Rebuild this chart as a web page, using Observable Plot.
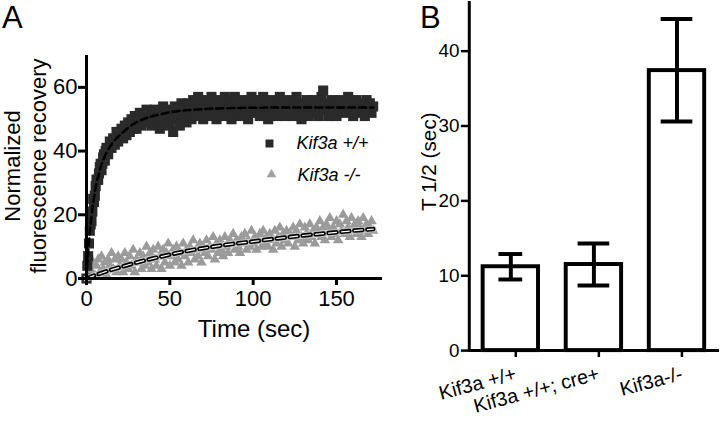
<!DOCTYPE html>
<html><head><meta charset="utf-8">
<script src="https://cdn.jsdelivr.net/npm/d3@7"></script>
<script src="https://cdn.jsdelivr.net/npm/@observablehq/plot@0.6"></script>
<style>
html,body{margin:0;padding:0;background:#fff;overflow:hidden;width:720px;height:426px}
#wrap{position:relative;width:720px;height:426px;font-family:"Liberation Sans",Arial,sans-serif}
#a,#b{position:absolute;top:0}
#a{left:0}
#b{left:360px}
.lab{position:absolute;font-size:31px;line-height:36px;color:#000}
</style></head><body>
<div id="wrap"><div id="a"></div><div id="b"></div>
<div class="lab" style="left:2px;top:0px">A</div>
<div class="lab" style="left:420px;top:0px">B</div></div>
<script>
// ---------- Panel A data ----------
const wtTime = d3.range(0, 173); // one reading per second, 0..172 s
const wtValue = [0,7,15,18,25,26,31,31,35,34,38,37,41,39,43,41,44,42,46,43,46,
  47,44,48,45,49,46,50,47,51,47,49,52,48,51,50,53,49,52,48,51,
  53,49,52,47,51,54,48,50,53,49,52,46,54,50,53,48,55,51,54,49,
  55,52,50,56,53,51,57,52,54,50,56,53,51,55,57,52,54,50,56,53,
  55,51,57,54,52,56,50,54,57,52,55,51,54,56,52,55,50,54,57,53,
  55,52,56,51,54,57,52,55,50,54,56,52,55,51,54,57,52,55,51,54,
  56,52,54,51,55,57,52,54,50,55,53,56,51,54,52,56,53,55,51,54,
  57,59,53,55,51,54,56,52,55,51,54,56,53,55,52,54,57,53,55,51,
  54,56,52,55,53,54,51,56,53,55,52,54];
// extra readings on the steep early rise
const wtEarlyTime  = [0.5,1.5,2.5,3.5,4.5,5.5,6.5,7.5,8.5,9.5,10.5,11.5,12.5];
const wtEarlyValue = [4,11,17,21,24,29,31,33,36,36,39,40,40];
const koTime = d3.range(0, 173);
const koValue = [0,1,3,2,5,1,4,6,2,7,3,5,1,6,4,8,3,6,2,7,4,
  6,2,8,5,3,7,4,9,2,6,5,8,3,7,4,10,5,8,3,9,
  6,4,10,7,3,9,5,8,11,4,7,9,5,10,6,8,4,11,7,9,
  5,10,8,12,6,9,7,11,5,10,8,12,7,10,9,13,6,11,8,12,
  9,7,13,10,8,12,11,14,9,12,10,8,13,11,14,9,12,10,15,11,
  13,9,12,14,10,15,11,13,10,14,12,9,15,11,13,16,10,14,12,15,
  11,14,13,16,10,15,12,17,13,11,16,14,12,17,13,15,11,16,14,18,
  13,16,12,17,15,19,13,16,14,18,12,17,15,20,14,18,16,13,19,15,
  17,14,18,16,13,19,15,17,14,16,18,15];
const wtFitTime  = [0,1,2,3,4,5,6,7,8,9,10,12,14,16,18,20,25,30,35,40,50,60,70,80,100,130,172];
const wtFitValue = [0,8,14.5,19.5,23.5,27,30,32,34,35.8,37.2,39.5,41.3,42.8,44,45,47.3,49,50.2,51,52.2,52.8,53.2,53.4,53.6,53.7,53.7];
const koFitTime  = [0,10,20,30,40,50,60,70,80,90,100,110,120,130,140,150,160,172];
const koFitValue = [0,1.9,3.5,5,6.3,7.5,8.6,9.5,10.3,11,11.6,12.3,12.9,13.5,14,14.5,15,15.5];
const xTicksA = [0,50,100,150];
const yTicksA = [0,20,40,60];
const legendA = ["Kif3a +/+","Kif3a -/-"];

// ---------- Panel B data ----------
const groups = ["Kif3a +/+","Kif3a +/+; cre+","Kif3a-/-"];
const halfTime = [11.2,11.5,37.4];
const halfTimeHi = [12.9,14.3,44.3];
const halfTimeLo = [9.5,8.7,30.6];
const yTicksB = [0,10,20,30,40];

const wt = wtTime.map((t,i)=>({t, v:wtValue[i]}))
  .concat(wtEarlyTime.map((t,i)=>({t, v:wtEarlyValue[i]})));
const ko = koTime.map((t,i)=>({t, v:koValue[i]}));
const wtFit = wtFitTime.map((t,i)=>({t, v:wtFitValue[i]}));
const koFit = koFitTime.map((t,i)=>({t, v:koFitValue[i]}));
const rows = groups.map((g,i)=>({g, v:halfTime[i], hi:halfTimeHi[i], lo:halfTimeLo[i]}));

const font = "Liberation Sans, Arial, sans-serif";

const A = Plot.plot({
  width:390, height:426, marginLeft:86, marginRight:8, marginTop:55, marginBottom:148,
  style:{fontFamily:font, background:"transparent", overflow:"visible", color:"#000"},
  x:{domain:[0,177.6]}, y:{domain:[0,70]},
  marks:[
    Plot.dot(ko, {x:"t", y:"v", symbol:"triangle", r:3.9, fill:"#9b9b9b", stroke:"none"}),
    Plot.dot(wt, {x:"t", y:"v", symbol:"square", r:5.7, fill:"#2a2a2a", stroke:"none"}),
    Plot.line(koFit, {x:"t", y:"v", curve:"natural", stroke:"#c4c4c4", strokeWidth:6.5}),
    Plot.line(koFit, {x:"t", y:"v", curve:"natural", stroke:"#000", strokeWidth:4.5, strokeDasharray:"8,5"}),
    Plot.line(koFit, {x:"t", y:"v", curve:"natural", stroke:"#fff", strokeWidth:1.2, strokeDasharray:"8,5"}),
    Plot.line(wtFit, {x:"t", y:"v", curve:"natural", stroke:"#000", strokeWidth:2.5, strokeDasharray:"7,4"}),
    Plot.ruleY([0], {strokeWidth:3}),
    Plot.ruleX([0], {strokeWidth:3}),
    Plot.axisY({ticks:yTicksA, tickSize:8, tickPadding:1, fontSize:22, strokeWidth:3, label:null}),
    Plot.axisX({ticks:xTicksA, tickSize:7, tickPadding:5, fontSize:22, strokeWidth:3, label:null}),
    Plot.text(["Time (sec)"], {text:d=>d, frameAnchor:"bottom", textAnchor:"middle", lineAnchor:"bottom", dx:19.5, dy:58, fontSize:24}),
    Plot.text(["Normalized\nfluorescence recovery"], {text:d=>d, frameAnchor:"left", textAnchor:"middle", lineAnchor:"middle", rotate:-90, dx:-62, dy:-1, fontSize:22, lineHeight:1.2}),
    Plot.dot([legendA[0]], {frameAnchor:"top-left", dx:183, dy:88, symbol:"square", r:4.5, fill:"#2a2a2a", stroke:"none"}),
    Plot.dot([legendA[1]], {frameAnchor:"top-left", dx:185, dy:119, symbol:"triangle", r:3.6, fill:"#a0a0a0", stroke:"none"}),
    Plot.text([legendA[0]], {text:d=>d, frameAnchor:"top-left", dx:210, dy:88, textAnchor:"start", lineAnchor:"middle", fontSize:18, fontStyle:"italic"}),
    Plot.text([legendA[1]], {text:d=>d, frameAnchor:"top-left", dx:211, dy:120, textAnchor:"start", lineAnchor:"middle", fontSize:18, fontStyle:"italic"})
  ]
});
document.getElementById("a").append(A);

const B = Plot.plot({
  width:364, height:426, marginLeft:110, marginRight:1, marginTop:2, marginBottom:72,
  style:{fontFamily:font, background:"transparent", overflow:"visible", color:"#000"},
  x:{domain:groups, paddingInner:0.3333, paddingOuter:0.1667},
  y:{domain:[0,46.5]},
  marks:[
    Plot.barY(rows, {x:"g", y:"v", fill:"white", stroke:"#000", strokeWidth:4}),
    Plot.ruleX(rows, {x:"g", y1:"lo", y2:"hi", strokeWidth:4}),
    Plot.tickY(rows.slice(0,1), {x:"g", y:"hi", strokeWidth:4, insetLeft:16, insetRight:16}),
    Plot.tickY(rows.slice(0,1), {x:"g", y:"lo", strokeWidth:4, insetLeft:16, insetRight:16}),
    Plot.tickY(rows.slice(1), {x:"g", y:"hi", strokeWidth:4, insetLeft:12, insetRight:12}),
    Plot.tickY(rows.slice(1), {x:"g", y:"lo", strokeWidth:4, insetLeft:12, insetRight:12}),
    Plot.ruleY([0], {strokeWidth:3}),
    Plot.frame({anchor:"left", strokeWidth:3}),
    Plot.axisY({ticks:yTicksB, tickSize:8, tickPadding:2, fontSize:19, strokeWidth:2.5, label:null}),
    Plot.axisX({tickSize:7, tickPadding:16, tickRotate:-15, dx:5, fontSize:20, strokeWidth:2.5, label:null}),
    Plot.text(["T 1/2 (sec)"], {text:d=>d, frameAnchor:"left", textAnchor:"middle", lineAnchor:"middle", rotate:-90, dx:-40, dy:-15, fontSize:21})
  ]
});
document.getElementById("b").append(B);
</script>
</body></html>
